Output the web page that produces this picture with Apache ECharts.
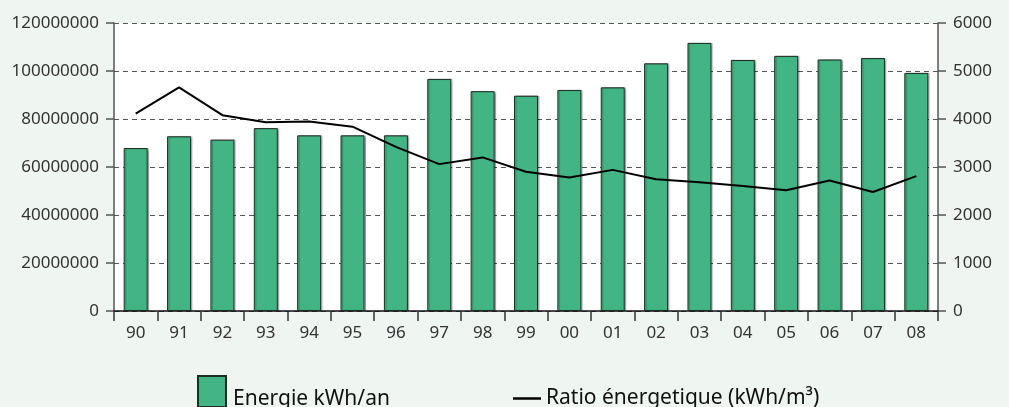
<!DOCTYPE html>
<html>
<head>
<meta charset="utf-8">
<script src="https://cdn.jsdelivr.net/npm/echarts@6/dist/echarts.min.js"></script>
<style>
html,body{margin:0;padding:0;background:#eff5f1;}
#c{width:1009px;height:407px;}
</style>
</head>
<body>
<div id="c"></div>
<script>
const years = ['90','91','92','93','94','95','96','97','98','99','00','01','02','03','04','05','06','07','08'];
const energie = [67900000,72800000,71400000,76200000,73200000,73200000,73200000,96700000,91600000,89700000,92100000,93200000,103200000,111700000,104600000,106300000,104800000,105400000,99200000];
const ratio = [4110,4660,4080,3930,3950,3840,3420,3060,3200,2900,2780,2940,2745,2680,2605,2515,2720,2480,2810];
const leftTicks = [0,20000000,40000000,60000000,80000000,100000000,120000000];
const rightTicks = [0,1000,2000,3000,4000,5000,6000];
const nameBar = 'Energie kWh/an';
const nameLine = 'Ratio énergetique (kWh/m³)';

const tickFont = "'Noto Sans', sans-serif";
const chart = echarts.init(document.getElementById('c'));
chart.setOption({
  animation: false,
  backgroundColor: '#eff5f1',
  grid: {left: 114, right: 71, top: 23, bottom: 96, show: true, backgroundColor: '#ffffff', borderWidth: 0},
  legend: [
    {data: [nameBar], left: 197, top: 375, padding: 0, icon: 'rect', itemWidth: 28, itemHeight: 31, itemGap: 0,
     formatter: n => '{a|' + n + '}',
     textStyle: {fontFamily: "'Noto Sans', sans-serif", fontSize: 21, color: '#111',
       rich: {a: {fontFamily: "'Noto Sans', sans-serif", fontSize: 21, color: '#111', padding: [16,0,0,2]}}}},
    {data: [nameLine], left: 513, top: 388, padding: 0, icon: 'rect', itemWidth: 28, itemHeight: 2.5, itemGap: 0,
     itemStyle: {color: '#000', borderWidth: 0},
     textStyle: {fontFamily: "'Noto Sans', sans-serif", fontSize: 21, color: '#111', padding: [10,0,0,0]}}
  ],
  xAxis: {
    type: 'category', data: years, boundaryGap: true,
    axisLine: {lineStyle: {color: '#111', width: 1.5}},
    axisTick: {show: true, length: 10, alignWithLabel: false, lineStyle: {color: '#333', width: 1.5}},
    axisLabel: {fontFamily: tickFont, fontSize: 17, color: '#333', margin: 14},
    splitLine: {show: false}
  },
  yAxis: [
    {type: 'value', min: 0, max: 120000000, interval: 20000000,
     axisLine: {show: true, lineStyle: {color: '#555', width: 1.5}},
     axisTick: {show: true, length: 8, lineStyle: {color: '#555', width: 1.5}},
     axisLabel: {fontFamily: tickFont, fontSize: 17, color: '#333', margin: 15,
       formatter: v => leftTicks.includes(v) ? String(v) : ''},
     splitLine: {show: true, lineStyle: {color: '#555', width: 1, type: [5, 4]}}},
    {type: 'value', min: 0, max: 6000, interval: 1000, position: 'right',
     axisLine: {show: true, lineStyle: {color: '#555', width: 1.5}},
     axisTick: {show: true, length: 8, lineStyle: {color: '#555', width: 1.5}},
     axisLabel: {fontFamily: tickFont, fontSize: 17, color: '#333', margin: 15,
       formatter: v => rightTicks.includes(v) ? String(v) : ''},
     splitLine: {show: false}}
  ],
  series: [
    {name: nameBar, type: 'bar', data: energie, yAxisIndex: 0, barWidth: 24,
     itemStyle: {color: '#43b484', borderColor: '#1c2e24', borderWidth: 1,
       shadowColor: 'rgba(0,0,0,0.25)', shadowOffsetX: 1.5, shadowBlur: 1}},
    {name: nameLine, type: 'line', data: ratio, yAxisIndex: 1, showSymbol: false, symbol: 'none',
     lineStyle: {color: '#000', width: 2}, itemStyle: {color: '#000'}, z: 3}
  ]
});
</script>
</body>
</html>
